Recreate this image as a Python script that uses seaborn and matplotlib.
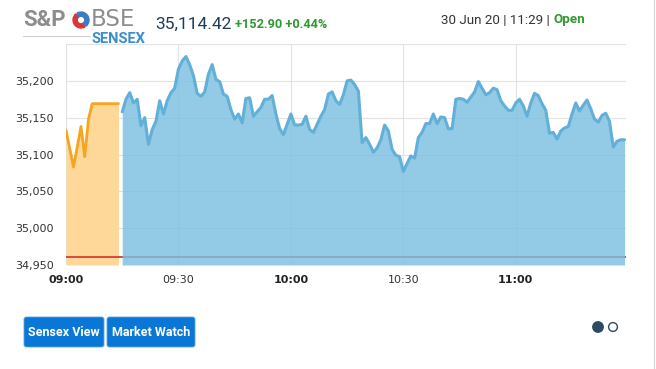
import numpy as np
import pandas as pd
import matplotlib
matplotlib.use("Agg")
import matplotlib.pyplot as plt
from matplotlib.patches import FancyBboxPatch, Circle, Wedge
import seaborn as sns

# ---------------- data ----------------
preopen_values = [35133, 35108, 35083, 35110, 35138, 35097, 35148, 35169,
                  35169, 35169, 35169, 35169, 35169, 35169, 35169]
session_values = [
    35158, 35175, 35184, 35170, 35175, 35139, 35150, 35114, 35134, 35145,
    35173, 35155, 35173, 35184, 35190, 35216, 35227, 35233, 35222, 35207,
    35183, 35179, 35185, 35209, 35222, 35202, 35199, 35182, 35179, 35161,
    35148, 35155, 35143, 35176, 35177, 35152, 35158, 35164, 35175, 35175,
    35180, 35155, 35135, 35127, 35141, 35155, 35140, 35140, 35141, 35152,
    35134, 35130, 35141, 35152, 35161, 35182, 35185, 35173, 35168, 35181,
    35200, 35201, 35195, 35186, 35116, 35123, 35114, 35103, 35109, 35120,
    35140, 35132, 35107, 35099, 35097, 35077, 35088, 35098, 35095, 35123,
    35130, 35142, 35142, 35155, 35142, 35151, 35150, 35135, 35135, 35175,
    35176, 35175, 35171, 35178, 35185, 35199, 35190, 35181, 35184, 35190,
    35188, 35173, 35166, 35160, 35160, 35170, 35175, 35166, 35152, 35170,
    35183, 35180, 35169, 35160, 35129, 35130, 35121, 35132, 35136, 35138,
    35155, 35170, 35159, 35167, 35174, 35162, 35148, 35144, 35153, 35156,
    35145, 35110, 35118, 35120, 35120,
]
prev_close = 34961.52
y_ticks = [34950, 35000, 35050, 35100, 35150, 35200, 35250]
x_tick_labels = ["09:00", "09:30", "10:00", "10:30", "11:00"]
day = "2020-06-30"
last_value = "35,114.42"
change_text = "+152.90 +0.44%"
date_text = "30 Jun 20 | 11:29 | "
status_text = "Open"
buttons = ["Sensex View", "Market Watch"]

# ---------------- frames ----------------
pre_times = pd.date_range(f"{day} 09:00", periods=len(preopen_values), freq="min")
ses_times = pd.date_range(f"{day} 09:15", periods=len(session_values), freq="min")
df_pre = pd.DataFrame({"time": pre_times, "value": preopen_values})
df_ses = pd.DataFrame({"time": ses_times, "value": session_values})

sns.set_theme(style="white")
plt.rcParams['font.family'] = ['DejaVu Sans']

W, H = 656, 369
fig = plt.figure(figsize=(W / 100, H / 100), dpi=100)
fig.patch.set_facecolor("white")
ax = fig.add_axes([66 / W, 1 - 265 / H, 560 / W, 221 / H])
ax.set_facecolor("white")

base = y_ticks[0]
ax.fill_between(df_pre["time"], base, df_pre["value"], color="#fdd899", lw=0, zorder=1)
ax.axhline(prev_close, color="#e0463c", lw=1.4, zorder=2)
ax.fill_between(df_ses["time"], base, df_ses["value"], color="#7cbfe0", alpha=0.82, lw=0, zorder=3)
sns.lineplot(data=df_pre, x="time", y="value", color="#f7a51e", lw=2.0, ax=ax, zorder=4)
sns.lineplot(data=df_ses, x="time", y="value", color="#62b0d8", lw=2.2, ax=ax, zorder=4)

t0 = pd.Timestamp(f"{day} 09:00")
ax.set_xlim(t0, t0 + pd.Timedelta(minutes=149.4))
ax.set_ylim(y_ticks[0], y_ticks[-1])
ax.set_yticks(y_ticks)
ax.set_yticklabels([f"{v:,}" if v != y_ticks[-1] else "" for v in y_ticks])
xt = pd.to_datetime([f"{day} {s}" for s in x_tick_labels])
ax.set_xticks(xt)
ax.set_xticklabels(x_tick_labels)
for lbl in ax.get_xticklabels():
    if lbl.get_text().endswith(":00"):
        lbl.set_fontweight("bold")
        lbl.set_color("#222222")
    else:
        lbl.set_color("#333333")
ax.tick_params(axis="y", labelsize=8, labelcolor="#333333", length=0, pad=9)
ax.tick_params(axis="x", labelsize=8, length=0, pad=7)
ax.set_xlabel("")
ax.set_ylabel("")
ax.grid(True, color="#e2e2e2", lw=0.8)
ax.set_axisbelow(True)
for s in ax.spines.values():
    s.set_visible(False)

# ---------------- overlay (header, buttons) ----------------
ov = fig.add_axes([0, 0, 1, 1], zorder=5)
ov.set_xlim(0, W)
ov.set_ylim(H, 0)
ov.axis("off")
ov.patch.set_alpha(0)

ov.text(23, 20, "S&P", fontfamily="Roboto", fontweight="bold", fontsize=16,
        color="#8d8d8d", va="center", ha="left")
ov.add_patch(Wedge((81, 20), 8, 60, 230, width=4.2, color="#d8363a"))
ov.add_patch(Wedge((81, 20), 8, 240, 50, width=4.2, color="#3b7cc4"))
ov.text(91, 20, "BSE", fontfamily="DejaVu Sans", fontsize=16.5, color="#8d8d8d",
        va="center", ha="left")
ov.text(92, 39, "SENSEX", fontfamily="Roboto", fontweight="bold", fontsize=10.5,
        color="#3d8fcb", va="center", ha="left")
ov.plot([23, 90], [36, 36], color="#cfcfcf", lw=0.8)

ov.text(155, 24, last_value, fontfamily="Roboto", fontsize=12.5, color="#1e3d5c",
        va="center", ha="left")
ov.text(235, 25, change_text, fontfamily="Roboto", fontweight="bold", fontsize=9.2,
        color="#2f9a2f", va="center", ha="left")
t = ov.text(441, 20, date_text, fontfamily="Roboto", fontsize=9.6, color="#333333",
            va="center", ha="left")
fig.canvas.draw()
bb = t.get_window_extent()
x_open = bb.x1
ov.text(x_open, H - 20, status_text, fontfamily="Roboto", fontweight="bold", fontsize=9.6,
        color="#2f9a2f", va="center", ha="left", transform=None)

# right border line
ov.plot([654, 654], [0, H], color="#d6d6d6", lw=0.8)

# buttons
btn_specs = [(24, 80), (107, 88)]
for (bx, bw), label in zip(btn_specs, buttons):
    ov.add_patch(FancyBboxPatch((bx, 317), bw, 30,
                                boxstyle="round,pad=0,rounding_size=2.5",
                                fc="#0a77d6", ec="#5aa2e0", lw=0.6))
    ov.text(bx + bw / 2, 332, label, fontfamily="Roboto", fontweight="bold",
            fontsize=9, color="white", ha="center", va="center")

# pager dots
ov.add_patch(Circle((598, 327), 5.2, fc="#2e4a62", ec="#2e4a62"))
ov.add_patch(Circle((613, 327), 4.4, fc="white", ec="#2e4a62", lw=1))

fig.savefig("out.png", dpi=100)
